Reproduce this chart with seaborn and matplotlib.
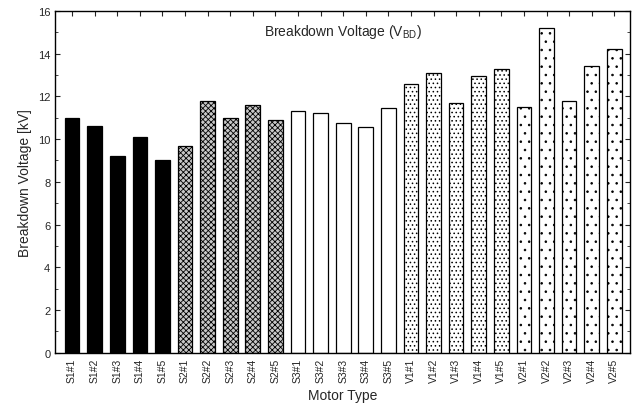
import numpy as np
import pandas as pd
import matplotlib
matplotlib.use("Agg")
import matplotlib.pyplot as plt
from matplotlib.ticker import MultipleLocator
import seaborn as sns

# Motor samples and measured breakdown voltage [kV]
motors = ["S1#1", "S1#2", "S1#3", "S1#4", "S1#5",
          "S2#1", "S2#2", "S2#3", "S2#4", "S2#5",
          "S3#1", "S3#2", "S3#3", "S3#4", "S3#5",
          "V1#1", "V1#2", "V1#3", "V1#4", "V1#5",
          "V2#1", "V2#2", "V2#3", "V2#4", "V2#5"]
voltage = [11.0, 10.6, 9.2, 10.1, 9.0,
           9.7, 11.8, 11.0, 11.6, 10.9,
           11.3, 11.2, 10.75, 10.55, 11.45,
           12.6, 13.1, 11.7, 12.95, 13.3,
           11.5, 15.2, 11.8, 13.4, 14.2]
groups = [m[:2] for m in motors]

# fill per motor group (face colour, hatch)
group_style = {
    "S1": ("black", ""),
    "S2": ("#c8c8c8", "xxxxxx"),
    "S3": ("white", ""),
    "V1": ("white", "...."),
    "V2": ("white", ".."),
}


def main():
    df = pd.DataFrame({"motor": motors, "voltage": voltage, "group": groups})

    sns.set_style("ticks")
    plt.rcParams["font.family"] = ["Liberation Sans", "DejaVu Sans"]
    plt.rcParams["mathtext.default"] = "regular"
    plt.rcParams["hatch.linewidth"] = 0.6

    fig = plt.figure(figsize=(6.41, 4.10), dpi=100)
    ax = fig.add_axes([0.086, 0.137, 0.897, 0.834])

    sns.barplot(data=df, x="motor", y="voltage", color="white",
                edgecolor="black", linewidth=0.9, width=0.65, ax=ax)

    for patch, g in zip(ax.patches, df["group"]):
        face, hatch = group_style[g]
        patch.set_facecolor(face)
        patch.set_hatch(hatch)

    ax.set_xlim(-0.75, len(motors) - 0.3)
    ax.set_ylim(0, 16)
    ax.yaxis.set_major_locator(MultipleLocator(2))
    ax.yaxis.set_minor_locator(MultipleLocator(1))
    ax.tick_params(axis="both", direction="in", top=True, right=True, labelsize=8)
    ax.tick_params(axis="y", which="minor", direction="in", right=True, length=2)
    ax.tick_params(axis="x", labelrotation=90, labelsize=7.5)
    for side in ax.spines.values():
        side.set_linewidth(1.0)
        side.set_color("black")

    ax.set_xlabel("Motor Type", fontsize=10)
    ax.set_ylabel("Breakdown Voltage [kV]", fontsize=10)
    ax.text(0.5, 0.94, "Breakdown Voltage (V$_{BD}$)", transform=ax.transAxes,
            ha="center", va="center", fontsize=10)

    fig.savefig("out.png", dpi=100)


if __name__ == "__main__":
    main()
